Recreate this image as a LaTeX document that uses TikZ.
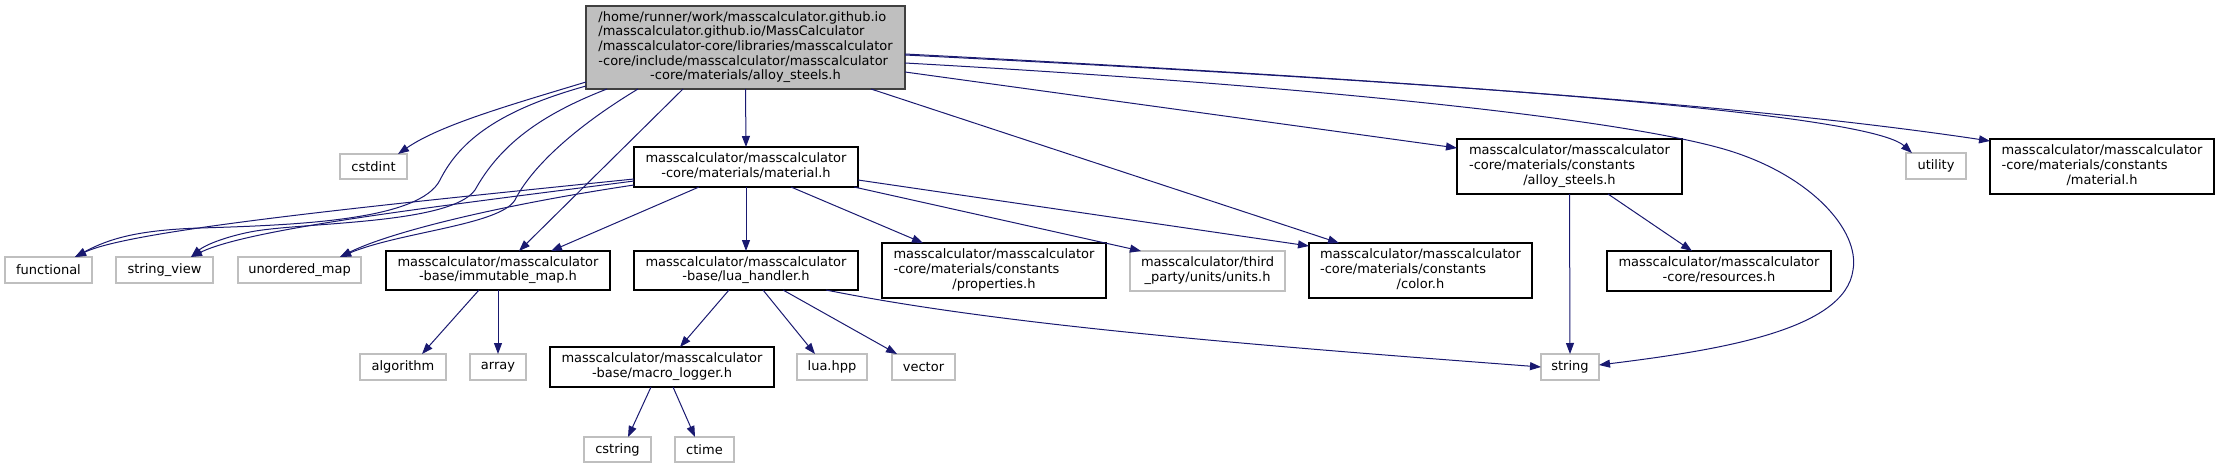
\documentclass[tikz,border=0pt]{standalone}
\usepackage{fontspec}
\setmainfont{DejaVu Sans}
\usetikzlibrary{arrows.meta}
\definecolor{edgec}{HTML}{191970}
\definecolor{rootfill}{HTML}{BFBFBF}
\definecolor{rootdraw}{HTML}{404040}
\definecolor{extdraw}{HTML}{BFBFBF}
\newcommand\lbfont{\fontsize{13}{14.6}\selectfont}
\newcommand\lbl[2]{\begin{tabular}{@{}l@{}}#1\\\multicolumn{1}{@{}c@{}}{#2}\end{tabular}}
\newcommand\nd[7]{\node[#6, minimum width={(#4-#2)*1pt}, minimum height={(#5-#3)*1pt}] (#1) at ({(#2+#4)/2},{(#3+#5)/2}) {#7};}
\tikzset{
  box/.style={draw=black, fill=white, line width=1.2pt, inner sep=0pt, outer sep=0pt, anchor=center, font=\lbfont},
  ext/.style={box, draw=extdraw},
  root/.style={box, fill=rootfill, draw=rootdraw},
  dep/.style={draw=edgec, line width=1pt, -{Triangle[length=11pt,width=8pt]}},
}
\begin{document}
\begin{tikzpicture}[x=1pt,y=-1pt]
\useasboundingbox (0,0) rectangle (2219,468);
% rank 0
\nd{main}{586}{6}{905}{89}{root}{\lbl{/home/runner/work/masscalculator.github.io\\/masscalculator.github.io/MassCalculator\\/masscalculator-core/libraries/masscalculator\\-core/include/masscalculator/masscalculator}{-core/materials/alloy\_steels.h}}
% rank 1
\nd{cstdint}{340}{154}{407}{179}{ext}{cstdint}
\nd{material}{634}{147}{858}{187}{box}{\lbl{masscalculator/masscalculator}{-core/materials/material.h}}
\nd{calloy}{1457}{139}{1682}{194}{box}{\lbl{masscalculator/masscalculator\\-core/materials/constants}{/alloy\_steels.h}}
\nd{utility}{1906}{153}{1966}{179}{ext}{utility}
\nd{cmaterial}{1990}{139}{2214}{194}{box}{\lbl{masscalculator/masscalculator\\-core/materials/constants}{/material.h}}
% rank 2
\nd{functional}{5}{257}{92}{283}{ext}{functional}
\nd{stringview}{116}{257}{213}{283}{ext}{string\_view}
\nd{umap}{238}{257}{361}{283}{ext}{unordered\_map}
\nd{immutable}{386}{251}{610}{290}{box}{\lbl{masscalculator/masscalculator}{-base/immutable\_map.h}}
\nd{luahandler}{634}{251}{858}{290}{box}{\lbl{masscalculator/masscalculator}{-base/lua\_handler.h}}
\nd{properties}{882}{243}{1106}{298}{box}{\lbl{masscalculator/masscalculator\\-core/materials/constants}{/properties.h}}
\nd{units}{1130}{251}{1285}{291}{ext}{\lbl{masscalculator/third}{\_party/units/units.h}}
\nd{color}{1309}{243}{1532}{298}{box}{\lbl{masscalculator/masscalculator\\-core/materials/constants}{/color.h}}
\nd{resources}{1607}{251}{1831}{291}{box}{\lbl{masscalculator/masscalculator}{-core/resources.h}}
% rank 3
\nd{algorithm}{360}{354}{446}{380}{ext}{algorithm}
\nd{array}{470}{354}{526}{380}{ext}{array}
\nd{macro}{550}{347}{774}{387}{box}{\lbl{masscalculator/masscalculator}{-base/macro\_logger.h}}
\nd{luahpp}{797}{354}{867}{380}{ext}{lua.hpp}
\nd{vector}{892}{354}{955}{380}{ext}{vector}
\nd{string}{1541}{354}{1599}{380}{ext}{string}
% rank 4
\nd{cstring}{584}{437}{651}{462}{ext}{cstring}
\nd{ctime}{675}{437}{734}{462}{ext}{ctime}

% edges from main
\draw[dep] ([yshift=7pt]main.south west) .. controls (510,105) and (440,125) .. ([xshift=-9pt]cstdint.north east);
\draw[dep] ([yshift=3pt]main.south west) .. controls (500,110) and (460,140) .. (440,180) .. controls (420,220) and (300,225) .. (200,228) .. controls (140,230) and (110,238) .. ([xshift=-17pt]functional.north east);
\draw[dep] ([xshift=21pt]main.south west) .. controls (540,115) and (500,145) .. (475,190) .. controls (450,225) and (300,222) .. (250,232) .. controls (225,237) and (205,245) .. ([xshift=-22pt]stringview.north east);
\draw[dep] ([xshift=52pt]main.south west) .. controls (570,130) and (530,170) .. (515,200) .. controls (500,225) and (400,232) .. ([xshift=-21pt]umap.north east);
\draw[dep] ([xshift=97pt]main.south west) -- ([xshift=133pt]immutable.north west);
\draw[dep] (main.south) -- (material.north);
\draw[dep] ([xshift=-34pt]main.south east) -- ([xshift=30pt]color.north west);
\draw[dep] ([yshift=17pt]main.south east) -- ([yshift=-9pt]calloy.north west);
\draw[dep] ([yshift=26pt]main.south east) .. controls (1300,85) and (1620,118) .. (1727,150) .. controls (1810,175) and (1860,230) .. (1853,270) .. controls (1845,330) and (1720,350) .. ([yshift=2pt]string.east);
\draw[dep] ([yshift=35pt]main.south east) .. controls (1500,85) and (1870,115) .. ([xshift=6pt]utility.north west);
\draw[dep] ([yshift=34pt]main.south east) .. controls (1400,80) and (1750,105) .. ([yshift=-2pt]cmaterial.north west);

% edges from material.h
\draw[dep] ([yshift=8pt]material.south west) .. controls (380,205) and (130,230) .. ([xshift=-17pt]functional.north east);
\draw[dep] ([yshift=6pt]material.south west) .. controls (450,205) and (250,228) .. ([xshift=-22pt]stringview.north east);
\draw[dep] ([yshift=2pt]material.south west) .. controls (500,205) and (390,232) .. ([xshift=-21pt]umap.north east);
\draw[dep] ([xshift=65pt]material.south west) -- ([xshift=165pt]immutable.north west);
\draw[dep] (material.south) -- (luahandler.north);
\draw[dep] ([xshift=157pt]material.south west) -- ([xshift=41pt]properties.north west);
\draw[dep] ([xshift=-4pt]material.south east) -- ([xshift=11pt]units.north west);
\draw[dep] ([yshift=7pt]material.south east) -- ([yshift=-3pt]color.north west);

% constants/alloy_steels.h
\draw[dep] (calloy.south) -- (string.north);
\draw[dep] ([xshift=-74pt]calloy.south east) -- ([xshift=85pt]resources.north west);

% immutable_map.h
\draw[dep] ([xshift=93pt]immutable.south west) -- ([xshift=62pt]algorithm.north west);
\draw[dep] ([xshift=112pt]immutable.south west) -- (array.north);

% lua_handler.h
\draw[dep] ([xshift=95pt]luahandler.south west) -- ([xshift=130pt]macro.north west);
\draw[dep] ([xshift=129pt]luahandler.south west) -- ([xshift=18pt]luahpp.north west);
\draw[dep] ([xshift=149pt]luahandler.south west) -- ([xshift=5pt]vector.north west);
\draw[dep] ([xshift=192pt]luahandler.south west) .. controls (1000,325) and (1250,345) .. (string.west);

% macro_logger.h
\draw[dep] ([xshift=101pt]macro.south west) -- ([xshift=44pt]cstring.north west);
\draw[dep] ([xshift=123pt]macro.south west) -- ([xshift=20pt]ctime.north west);
\end{tikzpicture}
\end{document}
